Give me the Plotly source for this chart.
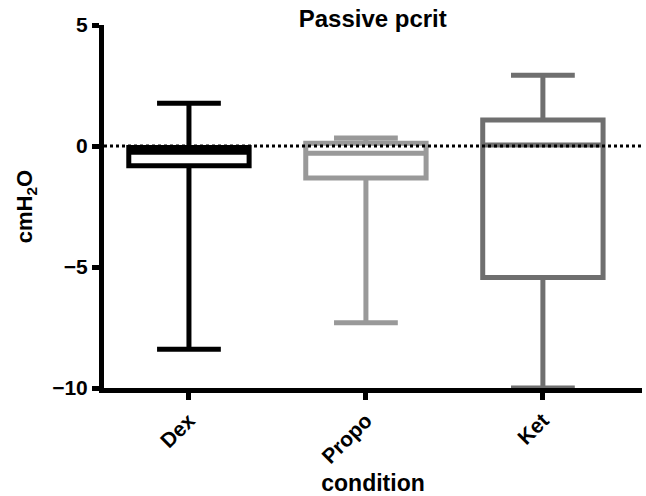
import plotly.graph_objects as go

categories = ["Dex", "Propo", "Ket"]
mins = [-8.4, -7.3, -10.0]
q1s = [-0.82, -1.32, -5.43]
medians = [-0.26, -0.3, 0.04]
q3s = [-0.06, 0.11, 1.07]
maxs = [1.77, 0.33, 2.92]
colors = ["#000000", "#999999", "#6f6f6f"]
y_ticks = [-10, -5, 0, 5]

FONT = "Liberation Sans, Arial, sans-serif"

fig = go.Figure()
for i, name in enumerate(categories):
    fig.add_trace(go.Box(
        x=[i], q1=[q1s[i]], median=[medians[i]], q3=[q3s[i]],
        lowerfence=[mins[i]], upperfence=[maxs[i]],
        name=name, width=0.68, whiskerwidth=0.53,
        line=dict(color=colors[i], width=5),
        fillcolor="rgba(255,255,255,0)",
        boxpoints=False, showlegend=False, hoverinfo="skip",
    ))

fig.add_shape(type="line", xref="paper", yref="y", x0=0, x1=1, y0=0, y1=0,
              line=dict(color="black", width=3, dash="dot"), layer="above")

fig.update_layout(
    width=646, height=496,
    margin=dict(l=104, r=4, t=25, b=108),
    paper_bgcolor="white", plot_bgcolor="white",
    font=dict(family=FONT, color="black", size=21, weight="bold"),
    title=dict(text="Passive pcrit", x=0.577, xanchor="center", y=0.963, yanchor="middle",
               font=dict(family=FONT, size=24, weight="bold")),
    xaxis=dict(range=[-0.48, 2.56], tickvals=[0, 1, 2], ticktext=categories,
               tickangle=-45, showgrid=False, zeroline=False, automargin=False,
               showline=True, linecolor="black", linewidth=5,
               ticks="outside", ticklen=7, tickwidth=5, tickcolor="black",
               tickfont=dict(size=21),
               title=dict(text="condition", font=dict(size=23))),
    yaxis=dict(range=[-10, 5], tickvals=y_ticks, automargin=False,
               ticktext=[str(v).replace("-", "\u2212") for v in y_ticks],
               showgrid=False, zeroline=False,
               showline=True, linecolor="black", linewidth=5,
               ticks="outside", ticklen=7, tickwidth=5, tickcolor="black",
               tickfont=dict(size=21),
               title=dict(text="cmH<sub>2</sub>O", font=dict(size=22))),
)

fig.write_html("out.html")
